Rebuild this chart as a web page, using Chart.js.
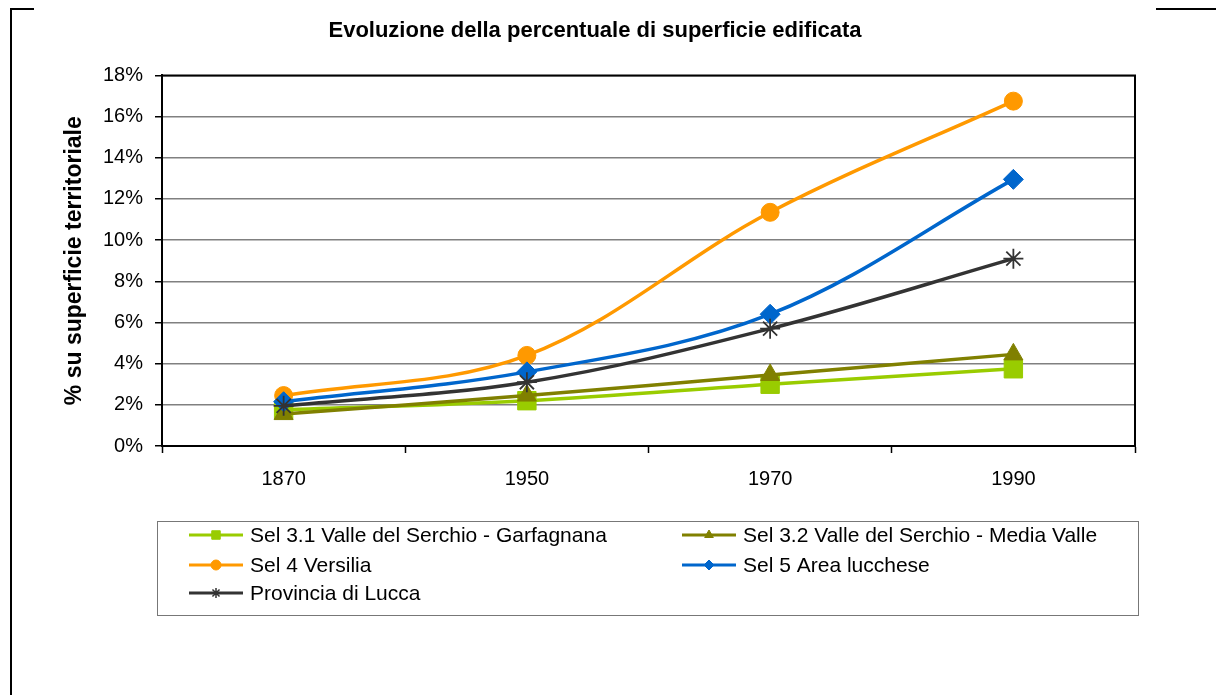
<!DOCTYPE html>
<html>
<head>
<meta charset="utf-8">
<script src="https://cdn.jsdelivr.net/npm/chart.js@4/dist/chart.umd.min.js"></script>
<style>
  body { margin: 0; background: #fff; }
  canvas { display: block; }
</style>
</head>
<body>
<canvas id="superficieChart" width="1216" height="695"></canvas>
<script>
// -----------------------------------------
// Dati (% di superficie edificata)
// -----------------------------------------
const anni = ["1870", "1950", "1970", "1990"];

const garfagnana = [1.75, 2.2, 3.0, 3.75];
const mediaValle = [1.55, 2.45, 3.45, 4.45];
const versilia   = [2.45, 4.4, 11.35, 16.75];
const areaLucchese = [2.15, 3.6, 6.4, 12.95];
const provincia  = [1.95, 3.1, 5.7, 9.1];

const yTicks = [0, 2, 4, 6, 8, 10, 12, 14, 16, 18];

const FONT = "'Liberation Sans', Arial, sans-serif";

function serie(label, data, color, style, radius, idx) {
    return {
        label: label,
        data: data,
        borderColor: color,
        backgroundColor: color,
        borderWidth: 3.5,
        tension: 0.35,
        pointStyle: style,
        pointRadius: radius,
        pointHoverRadius: radius,
        pointBorderWidth: style === "star" ? 1.8 : 1,
        pointBackgroundColor: color,
        pointBorderColor: color,
        order: 10 - idx
    };
}

// -----------------------------------------
// Cornice e legenda
// -----------------------------------------
const cornice = {
    id: "cornice",
    afterDraw(chart) {
        const ctx = chart.ctx;
        const a = chart.chartArea;
        ctx.save();
        ctx.strokeStyle = "#000";
        ctx.lineWidth = 2;
        ctx.beginPath();
        ctx.moveTo(a.left, a.top);
        ctx.lineTo(a.right, a.top);
        ctx.lineTo(a.right, a.bottom);
        ctx.stroke();

        // bordo esterno parziale
        ctx.beginPath();
        ctx.moveTo(34, 9);
        ctx.lineTo(11, 9);
        ctx.lineTo(11, 695);
        ctx.moveTo(1156, 9);
        ctx.lineTo(1216, 9);
        ctx.stroke();
        ctx.restore();
    }
};

const legenda = {
    id: "legenda",
    afterDraw(chart) {
        const ctx = chart.ctx;
        const a = chart.chartArea;
        const box = { x: a.left - 5, y: a.bottom + 75, w: a.right - a.left + 8, h: 94 };
        ctx.save();
        ctx.strokeStyle = "#777";
        ctx.lineWidth = 1;
        ctx.strokeRect(box.x + 0.5, box.y + 0.5, box.w, box.h);

        const colX = [box.x + 32, box.x + 525];
        const rowY = [box.y + 14, box.y + 44, box.y + 72];
        ctx.font = "21px " + FONT;
        ctx.textBaseline = "middle";
        ctx.textAlign = "left";

        chart.data.datasets.forEach((ds, i) => {
            const x = colX[i % 2];
            const y = rowY[Math.floor(i / 2)];
            ctx.strokeStyle = ds.borderColor;
            ctx.fillStyle = ds.borderColor;
            ctx.lineWidth = 3;
            ctx.beginPath();
            ctx.moveTo(x, y);
            ctx.lineTo(x + 54, y);
            ctx.stroke();
            ctx.lineWidth = ds.pointStyle === "star" ? 1.5 : 1;
            Chart.helpers.drawPoint(ctx, {
                pointStyle: ds.pointStyle,
                radius: ds.pointStyle === "rect" ? 6 : 5,
                rotation: 0,
                borderWidth: ctx.lineWidth
            }, x + 27, y);
            ctx.fillStyle = "#000";
            ctx.fillText(ds.label, x + 61, y + 1);
        });
        ctx.restore();
    }
};

// -----------------------------------------
// Grafico
// -----------------------------------------
const ctx = document.getElementById("superficieChart").getContext("2d");

new Chart(ctx, {
    type: "line",
    data: {
        labels: anni,
        datasets: [
            serie("Sel 3.1 Valle del Serchio - Garfagnana", garfagnana, "#99CC00", "rect", 13, 0),
            serie("Sel 3.2 Valle del Serchio - Media Valle", mediaValle, "#808000", "triangle", 11, 1),
            serie("Sel 4 Versilia", versilia, "#FF9900", "circle", 9, 2),
            serie("Sel 5 Area lucchese", areaLucchese, "#0066CC", "rectRot", 10, 3),
            serie("Provincia di Lucca", provincia, "#333333", "star", 10, 4)
        ]
    },
    options: {
        responsive: false,
        animation: false,
        layout: { padding: { left: 55, right: 81, top: 0, bottom: 199 } },
        plugins: {
            legend: { display: false },
            tooltip: { enabled: false },
            title: {
                display: true,
                text: "Evoluzione della percentuale di superficie edificata",
                color: "#000",
                font: { family: FONT, size: 22, weight: "bold" },
                padding: { top: 18, bottom: 31 }
            }
        },
        scales: {
            x: {
                offset: true,
                grid: {
                    offset: true,
                    drawOnChartArea: false,
                    tickLength: 7,
                    tickColor: "#000",
                    tickWidth: 1.5
                },
                border: { color: "#000", width: 2 },
                ticks: {
                    color: "#000",
                    padding: 14,
                    font: { family: FONT, size: 20 }
                },
                afterFit(scale) { scale.height = 50; }
            },
            y: {
                min: 0,
                max: 18,
                afterBuildTicks(scale) {
                    scale.ticks = yTicks.map(v => ({ value: v }));
                },
                grid: {
                    color: "#808080",
                    lineWidth: 1.5,
                    tickLength: 7,
                    tickColor: "#000"
                },
                border: { color: "#000", width: 2 },
                ticks: {
                    color: "#000",
                    padding: 12,
                    font: { family: FONT, size: 20 },
                    callback: v => v + "%"
                },
                title: {
                    display: true,
                    text: "% su superficie territoriale",
                    color: "#000",
                    font: { family: FONT, size: 23, weight: "bold" },
                    padding: { top: 6, bottom: 0 }
                },
                afterFit(scale) { scale.width = 107; }
            }
        }
    },
    plugins: [cornice, legenda]
});
</script>
</body>
</html>
